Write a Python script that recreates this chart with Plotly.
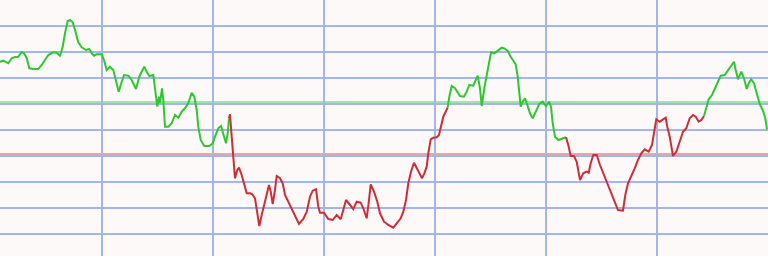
import plotly.graph_objects as go

# sample positions (time axis) and indicator values
t = [0, 3.3, 8.3, 11.7, 15, 18.3, 21.7, 24, 26.7, 29.3, 33.3, 38.3, 41.7, 45, 48.3, 53.3, 56.7, 60,
     62.7, 65, 67.7, 70, 72.7, 75, 78.3, 81.7, 86, 89.3, 91.7, 94, 96.7, 101.7, 104, 106.7, 110,
     113.3, 116, 118.7, 120.7, 124, 128.3, 131.7, 136, 139.3, 142, 144.3, 146.7, 149.3, 153.3,
     155, 157.3, 159, 160, 162, 163.3, 165, 168.3, 171.7, 175, 178.3, 181.7, 185, 188.3, 191.7,
     194.3, 196.7, 198.3, 200.7, 204.3, 209.3, 212.7, 215, 218.3, 221, 222.7, 224, 226, 227.7, 229,
     230, 231.7, 233.3, 235, 237.3, 239, 241.7, 244, 246.7, 250, 252.3, 255, 256.7, 259.3, 261.7,
     265, 269, 270.7, 272.7, 275, 276.7, 280, 282.7, 285, 288.3, 291.7, 295, 299, 303.3, 306.7,
     310, 312.7, 316, 318.3, 320, 324, 328.3, 332.7, 336.7, 340.7, 343.3, 346, 349.3, 353.3, 356.7,
     360.7, 363.3, 366.7, 369, 370.7, 374, 377.3, 380, 384, 388.3, 393.3, 397.3, 400.7, 403.3, 406,
     408.3, 411, 414, 416.7, 419.3, 422, 424.3, 426.7, 428.3, 430.7, 433.3, 436.7, 439, 441, 443.3,
     445.7, 447.7,
     449.3, 451.7, 455, 460, 464, 466.7, 469.3, 473.3, 476, 477.7, 480, 481.7, 484.3, 486.7, 489,
     491, 494.3, 498.3, 501.7, 504.3, 507.7, 510.7, 513.3, 515.7, 517.7, 519, 520.7, 522.7, 525,
     527.3, 530, 532.7, 536, 539.3, 542.7, 546, 549, 551, 552.7, 555, 558.3, 561.7, 566,
     568.3, 570.7, 574, 576.7, 578.3, 580, 583.3, 586.7, 588.7, 590.7, 593.3, 596.7, 600, 603.3,
     606.7, 610, 614.7, 618, 623, 625.3, 628, 631.3, 634.7, 638, 641.3, 644.7, 648.7, 652, 654,
     656.3, 659.7, 663, 665.7, 667.3, 669.7, 673, 676.3, 679.7, 683, 686.3, 689.7, 693, 695.7,
     698.7, 701.3, 704,
     706.3, 708.7, 712, 715.3, 718, 720.7, 724.7, 728, 731.3, 734, 735.7, 738, 741.3, 744, 746.7,
     748.7, 751.3, 754, 756.3, 759.7, 763, 765.3, 767]

value = [172.0, 173.0, 170.4, 175.4, 176.7, 177.0, 181.7, 180.4, 175.7, 165.4, 164.7, 164.7, 168.7,
         174.4, 178.7, 181.4, 181.0, 178.0, 187.0, 200.4, 212.7, 213.7, 211.4, 203.7, 191.4, 186.4,
         183.7, 184.7, 180.4, 178.0, 179.4, 179.4, 173.7, 163.7, 167.0, 163.7, 153.7, 142.0, 148.7,
         158.7, 158.0, 153.7, 144.7, 157.0, 162.7, 167.0, 162.0, 157.7, 158.7,
         143.7, 127.0, 137.0, 130.7, 145.4, 133.7, 107.0, 107.0, 110.4, 118.7, 116.0, 122.0, 125.4,
         130.4, 141.0, 137.0, 123.7, 107.0, 93.7, 87.7, 87.7, 90.4, 97.0, 105.4, 107.7, 102.0, 95.4,
         90.4, 100.4, 115.4,
         119.4, 97.0, 73.7, 55.4, 63.7, 66.0, 58.7, 50.4, 40.4, 40.4, 39.4, 35.4, 25.4, 7.7, 18.7,
         33.7, 48.7, 42.0, 29.7, 43.7, 57.7, 55.4, 50.4, 38.7, 32.0, 25.4, 18.7, 9.7, 14.7, 21.7,
         37.0, 43.0, 44.4, 27.0, 21.0, 21.0, 14.7, 13.7, 18.7, 14.4, 23.7, 33.7, 29.7, 24.7, 32.0,
         31.0, 25.4, 15.4, 33.7, 49.4, 42.0, 32.0, 20.4, 12.0, 8.7, 6.0, 11.0, 15.4, 22.0, 33.7,
         50.4, 62.0, 71.0, 65.4, 60.4, 55.4, 60.4, 67.0, 80.4, 94.4, 96.0, 96.4, 98.7, 107.0, 117.0,
         122.0, 126.4,
         137.0, 147.7, 145.4, 137.7, 137.0, 142.0, 148.7, 148.0, 153.7, 158.0, 145.4, 127.7, 145.4,
         158.7, 173.7, 181.4, 180.4, 183.0, 186.0, 185.4, 182.7, 177.0, 173.0, 169.4, 157.0, 140.4,
         127.0, 132.0, 135.4, 128.7, 120.4, 115.4, 122.7, 129.7, 132.0, 127.7, 132.0, 127.0, 110.4,
         97.0, 93.7, 95.0, 96.4,
         88.7, 77.7, 77.7, 72.0, 62.0, 53.7, 60.4, 62.0, 61.0, 70.4, 78.7, 78.7, 68.7, 60.4, 52.0,
         44.4, 32.0, 23.7, 23.0, 38.7, 50.4, 57.0, 65.4, 73.7, 80.4, 84.4, 82.0, 88.7, 100.4, 114.4,
         112.0, 114.4, 116.0, 107.0, 97.0, 77.7, 82.0, 92.0, 102.0, 105.4, 115.4, 118.7, 117.0,
         112.0, 113.7, 117.7,
         127.0, 134.4, 138.7, 145.4, 152.0, 158.0, 158.7, 163.7, 168.7, 172.0, 163.7, 154.4, 162.0,
         155.4, 144.7, 150.4, 154.4, 150.4, 142.0, 129.7, 123.0, 115.4, 104.4]

# regime changes: (start position, regime)
regime_start = [0, 229, 447.7, 566, 704]
regime_kind = ["up", "down", "up", "down", "up"]

upper_level = 131.7
lower_level = 79.7

UP_COLOR = "#2ec72e"
DOWN_COLOR = "#cf2d35"

fig = go.Figure()
for i, start in enumerate(regime_start):
    end = regime_start[i + 1] if i + 1 < len(regime_start) else float("inf")
    xs = [a for a in t if start <= a <= end]
    ys = [b for a, b in zip(t, value) if start <= a <= end]
    fig.add_trace(go.Scatter(
        x=xs, y=ys, mode="lines",
        line=dict(color=UP_COLOR if regime_kind[i] == "up" else DOWN_COLOR, width=2),
        hoverinfo="skip", showlegend=False))

fig.add_shape(type="line", xref="paper", x0=0, x1=1, yref="y", y0=upper_level, y1=upper_level,
              line=dict(color="#a3e6a3", width=2), layer="below")
fig.add_shape(type="line", xref="paper", x0=0, x1=1, yref="y", y0=lower_level, y1=lower_level,
              line=dict(color="#eba3a6", width=2), layer="below")

grid = "#a3b5ef"
fig.update_layout(
    width=768, height=256,
    margin=dict(l=0, r=0, t=0, b=0),
    paper_bgcolor="#fdf9f9", plot_bgcolor="#fdf9f9",
    xaxis=dict(range=[0, 768], tick0=101.7, dtick=111, showgrid=True, gridcolor=grid, gridwidth=2,
               showticklabels=False, zeroline=False, showline=False, ticks=""),
    yaxis=dict(range=[-22.3, 233.7], tick0=0, dtick=26, showgrid=True, gridcolor=grid, gridwidth=2,
               showticklabels=False, zeroline=False, showline=False, ticks=""),
)

fig.write_html("out.html")
